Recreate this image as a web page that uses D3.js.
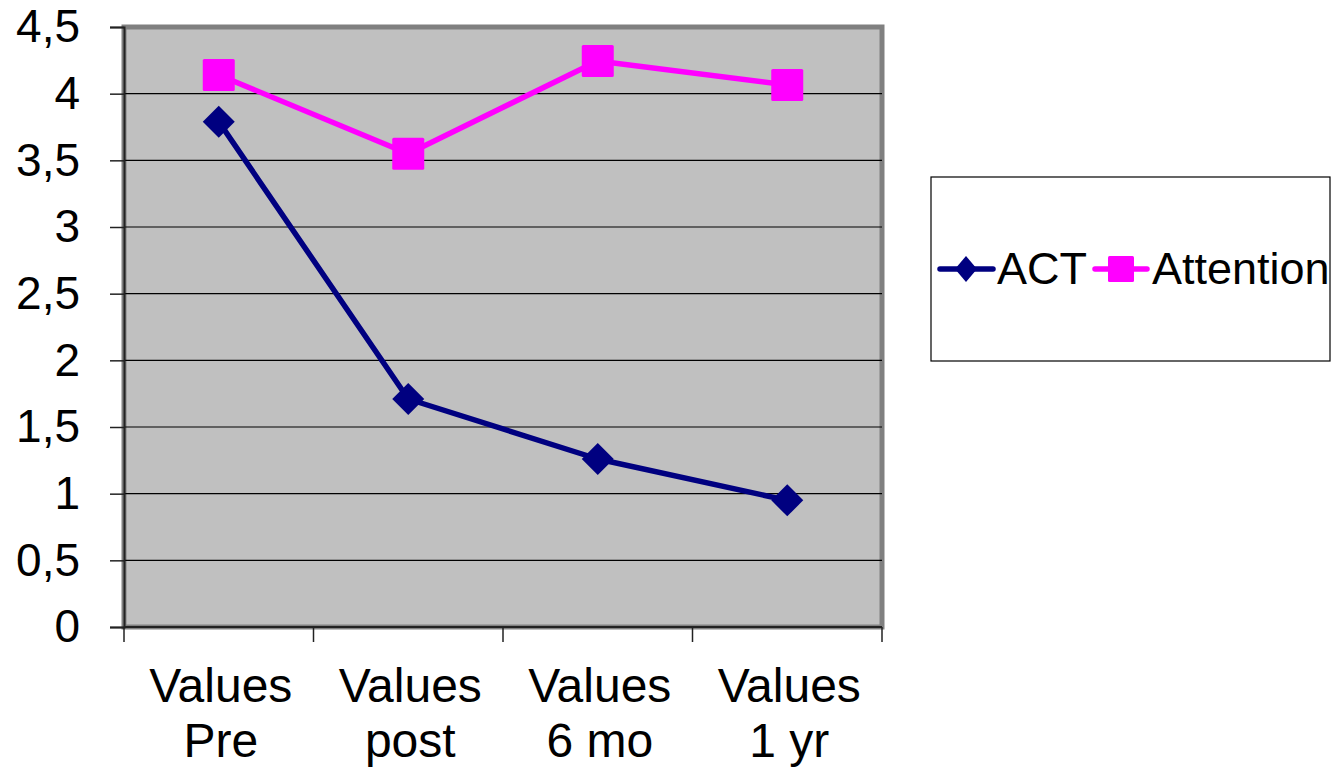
<!DOCTYPE html>
<html>
<head>
<meta charset="utf-8">
<script src="https://cdn.jsdelivr.net/npm/d3@7"></script>
<style>
  html, body { margin: 0; padding: 0; background: #ffffff; }
  svg { display: block; font-family: "Liberation Sans", Arial, sans-serif; }
</style>
</head>
<body>
<svg id="chart" width="1332" height="768"></svg>
<script>
// Category labels (two lines each) and series values
const categories = ["Values Pre", "Values post", "Values 6 mo", "Values 1 yr"];
const categoryLines = [["Values", "Pre"], ["Values", "post"], ["Values", "6 mo"], ["Values", "1 yr"]];
const actValues = [3.79, 1.71, 1.26, 0.95];
const attentionValues = [4.14, 3.55, 4.245, 4.065];
const yTicks = [0, 0.5, 1, 1.5, 2, 2.5, 3, 3.5, 4, 4.5];
const seriesNames = ["ACT", "Attention"];
const seriesColors = ["#000080", "#ff00ff"];

const svg = d3.select("#chart");
const plot = { left: 124, right: 882, top: 27, bottom: 627 };

const x = d3.scaleBand().domain(categories).range([plot.left, plot.right]).padding(0);
const y = d3.scaleLinear().domain([0, 4.5]).range([plot.bottom, plot.top]);
const fmt = v => String(v).replace(".", ",");

// plot background with grey frame
svg.append("rect")
  .attr("x", plot.left).attr("y", plot.top)
  .attr("width", plot.right - plot.left).attr("height", plot.bottom - plot.top)
  .attr("fill", "#c0c0c0").attr("stroke", "#808080").attr("stroke-width", 5);

// horizontal gridlines
svg.append("g").selectAll("line")
  .data(yTicks.filter(t => t > 0 && t < 4.5))
  .join("line")
  .attr("x1", plot.left).attr("x2", plot.right)
  .attr("y1", d => y(d)).attr("y2", d => y(d))
  .attr("stroke", "#000").attr("stroke-width", 1.2);

// y axis
const yAxis = svg.append("g").attr("transform", `translate(${plot.left},0)`)
  .call(d3.axisLeft(y).tickValues(yTicks).tickFormat(fmt).tickSize(14).tickPadding(30));
yAxis.select(".domain").attr("stroke", "#222").attr("stroke-width", 2);
yAxis.selectAll(".tick line").attr("stroke", "#222").attr("stroke-width", 1.5);
yAxis.selectAll(".tick text").attr("font-size", 46).attr("fill", "#000")
  .attr("font-family", "'Liberation Sans', Arial, sans-serif");

// x axis: boundary ticks between categories
const boundaries = categories.map(c => x(c)).concat([plot.right]);
svg.append("line")
  .attr("x1", plot.left).attr("x2", plot.right)
  .attr("y1", plot.bottom).attr("y2", plot.bottom)
  .attr("stroke", "#222").attr("stroke-width", 2);
svg.append("g").selectAll("line").data(boundaries).join("line")
  .attr("x1", d => d).attr("x2", d => d)
  .attr("y1", plot.bottom).attr("y2", plot.bottom + 15)
  .attr("stroke", "#222").attr("stroke-width", 1.5);

// category labels
const xLabels = svg.append("g").selectAll("text").data(categories).join("text")
  .attr("text-anchor", "middle")
  .attr("font-size", 48)
  .attr("fill", "#000");
xLabels.each(function(d, i) {
  const cx = x(d) + x.bandwidth() / 2 + 2;
  d3.select(this).selectAll("tspan").data(categoryLines[i]).join("tspan")
    .attr("x", cx)
    .attr("y", (t, j) => 702 + j * 55)
    .text(t => t);
});

// series lines and markers
const cx = c => x(c) + x.bandwidth() / 2;
const line = d3.line().x(d => cx(d.c)).y(d => y(d.v));
const seriesData = [actValues, attentionValues].map(vals => categories.map((c, i) => ({ c, v: vals[i] })));

seriesData.forEach((pts, s) => {
  svg.append("path").datum(pts)
    .attr("d", line).attr("fill", "none")
    .attr("stroke", seriesColors[s]).attr("stroke-width", 5.5)
    .attr("stroke-linejoin", "round");
});

// ACT diamonds
svg.append("g").selectAll("path").data(seriesData[0]).join("path")
  .attr("transform", d => `translate(${cx(d.c)},${y(d.v)})`)
  .attr("d", "M0,-16L16,0L0,16L-16,0Z")
  .attr("fill", seriesColors[0]);

// Attention squares
svg.append("g").selectAll("rect").data(seriesData[1]).join("rect")
  .attr("x", d => cx(d.c) - 16).attr("y", d => y(d.v) - 16)
  .attr("width", 32).attr("height", 32).attr("rx", 1.5)
  .attr("fill", seriesColors[1]);

// legend
const legend = svg.append("g");
legend.append("rect")
  .attr("x", 931).attr("y", 177).attr("width", 399).attr("height", 184)
  .attr("fill", "#fff").attr("stroke", "#000").attr("stroke-width", 1.2);

const ly = 269;
// ACT entry
legend.append("line").attr("x1", 940).attr("x2", 993).attr("y1", ly).attr("y2", ly)
  .attr("stroke", seriesColors[0]).attr("stroke-width", 5.5).attr("stroke-linecap", "round");
legend.append("path").attr("transform", `translate(966,${ly})`)
  .attr("d", "M0,-13L11,0L0,13L-11,0Z").attr("fill", seriesColors[0]);
legend.append("text").attr("x", 997).attr("y", 284).attr("font-size", 45).text(seriesNames[0]);
// Attention entry
legend.append("line").attr("x1", 1095).attr("x2", 1147).attr("y1", ly).attr("y2", ly)
  .attr("stroke", seriesColors[1]).attr("stroke-width", 5.5).attr("stroke-linecap", "round");
legend.append("rect").attr("x", 1108).attr("y", ly - 13).attr("width", 26).attr("height", 26)
  .attr("rx", 1.5).attr("fill", seriesColors[1]);
legend.append("text").attr("x", 1152).attr("y", 284).attr("font-size", 45).text(seriesNames[1]);
</script>
</body>
</html>
